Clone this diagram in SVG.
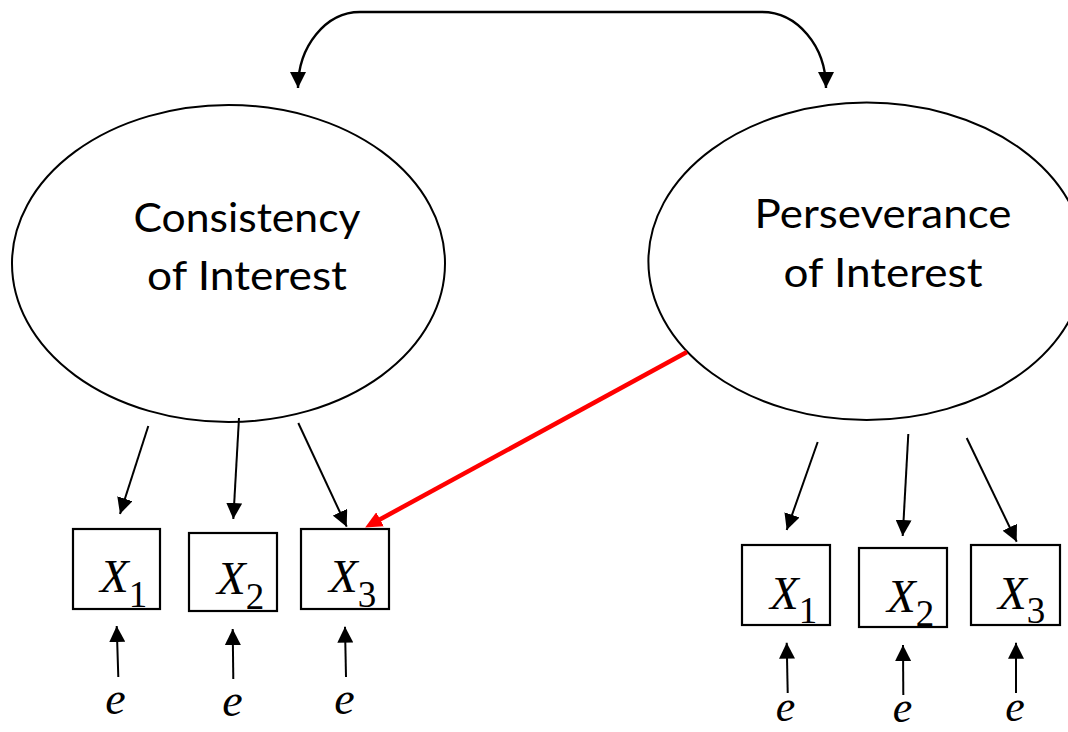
<svg xmlns="http://www.w3.org/2000/svg" width="1068" height="732" viewBox="0 0 1068 732">
<style>
.bg{fill:#fff}
.lat{fill:#fff;stroke:#000;stroke-width:2}
.obs{fill:#fff;stroke:#000;stroke-width:2.2}
.lbl{font-family:Lato,"Liberation Sans",sans-serif;font-size:40px;fill:#000;text-anchor:middle}
.x{font-family:"Liberation Serif","Times New Roman",serif;font-style:italic;font-size:47px;fill:#000}
.sub{font-style:normal;font-size:37px}
.e{font-family:"Liberation Serif","Times New Roman",serif;font-style:italic;font-size:46px;fill:#000;text-anchor:middle}
.e2{font-size:44px}
.c{fill:none;stroke:#000;stroke-width:2;marker-end:url(#ah)}
.red{fill:none;stroke:#ff0000;stroke-width:4.5;marker-end:url(#ahr)}
.cov{fill:none;stroke:#000;stroke-width:2.4;marker-start:url(#ah2);marker-end:url(#ah2)}
</style>
<defs>
<marker id="ah" markerUnits="userSpaceOnUse" markerWidth="16" markerHeight="16" refX="16" refY="8" orient="auto"><path d="M0,0 L16,8 L0,16 z" fill="#000"/></marker>
<marker id="ah2" markerUnits="userSpaceOnUse" markerWidth="16" markerHeight="16" refX="16" refY="8" orient="auto-start-reverse"><path d="M0,0 L16,8 L0,16 z" fill="#000"/></marker>
<marker id="ahr" markerUnits="userSpaceOnUse" markerWidth="18" markerHeight="16" refX="6" refY="8" orient="auto"><path d="M0,0 L17,8 L0,16 z" fill="#ff0000"/></marker>
</defs>
<rect class="bg" x="0" y="0" width="1068" height="732"/>
<g id="consistency">
<ellipse class="lat" cx="228.5" cy="263.5" rx="216.5" ry="158.5"/>
<text class="lbl" x="247" y="232" textLength="227" lengthAdjust="spacingAndGlyphs">Consistency</text>
<text class="lbl" x="247" y="290" textLength="200" lengthAdjust="spacingAndGlyphs">of Interest</text>
</g>
<g id="perseverance">
<ellipse class="lat" cx="866.7" cy="261.3" rx="218.3" ry="158.7"/>
<text class="lbl" x="883" y="228" textLength="257" lengthAdjust="spacingAndGlyphs">Perseverance</text>
<text class="lbl" x="883" y="287" textLength="199" lengthAdjust="spacingAndGlyphs">of Interest</text>
</g>
<g id="c-x1"><rect class="obs" x="73" y="529" width="87" height="80"/><text class="x" x="100" y="592">X<tspan class="sub" dy="15">1</tspan></text></g>
<g id="c-x2"><rect class="obs" x="189" y="533" width="88" height="78"/><text class="x" x="217" y="594">X<tspan class="sub" dy="15">2</tspan></text></g>
<g id="c-x3"><rect class="obs" x="301" y="529" width="88" height="80"/><text class="x" x="329" y="592">X<tspan class="sub" dy="15">3</tspan></text></g>
<g id="p-x1"><rect class="obs" x="742" y="545" width="88" height="80"/><text class="x" x="770" y="609">X<tspan class="sub" dy="14">1</tspan></text></g>
<g id="p-x2"><rect class="obs" x="859" y="548" width="88" height="79"/><text class="x" x="887" y="612">X<tspan class="sub" dy="14">2</tspan></text></g>
<g id="p-x3"><rect class="obs" x="971" y="545" width="89" height="80"/><text class="x" x="998" y="609">X<tspan class="sub" dy="14">3</tspan></text></g>
<g id="errors">
<text class="e" x="115.5" y="714">e</text>
<text class="e" x="232.5" y="716">e</text>
<text class="e" x="344.5" y="714">e</text>
<text class="e e2" x="785.5" y="721">e</text>
<text class="e e2" x="902.5" y="722">e</text>
<text class="e e2" x="1015" y="721">e</text>
</g>
<g id="connectors">
<path class="cov" d="M298,88 C298,46 326,12 360,12 L762,12 C797,12 826,46 826,88"/>
<line class="c" x1="148.3" y1="426" x2="120" y2="514"/>
<line class="c" x1="239" y1="418" x2="233.3" y2="519"/>
<line class="c" x1="298.3" y1="423" x2="346.7" y2="526.7"/>
<line class="c" x1="817.7" y1="442" x2="786.7" y2="530"/>
<line class="c" x1="908.3" y1="434" x2="902.7" y2="536"/>
<line class="c" x1="966.7" y1="438" x2="1016.7" y2="541.7"/>
<line class="c" x1="118.3" y1="677" x2="116.7" y2="626"/>
<line class="c" x1="233.3" y1="679" x2="232.7" y2="629"/>
<line class="c" x1="346" y1="677" x2="345" y2="626.7"/>
<line class="c" x1="787.7" y1="693" x2="786.7" y2="642.7"/>
<line class="c" x1="903.3" y1="695" x2="903" y2="645"/>
<line class="c" x1="1016" y1="693" x2="1016" y2="642.7"/>
<line class="red" x1="687" y1="352" x2="374.8" y2="522.2"/>
</g>
</svg>
